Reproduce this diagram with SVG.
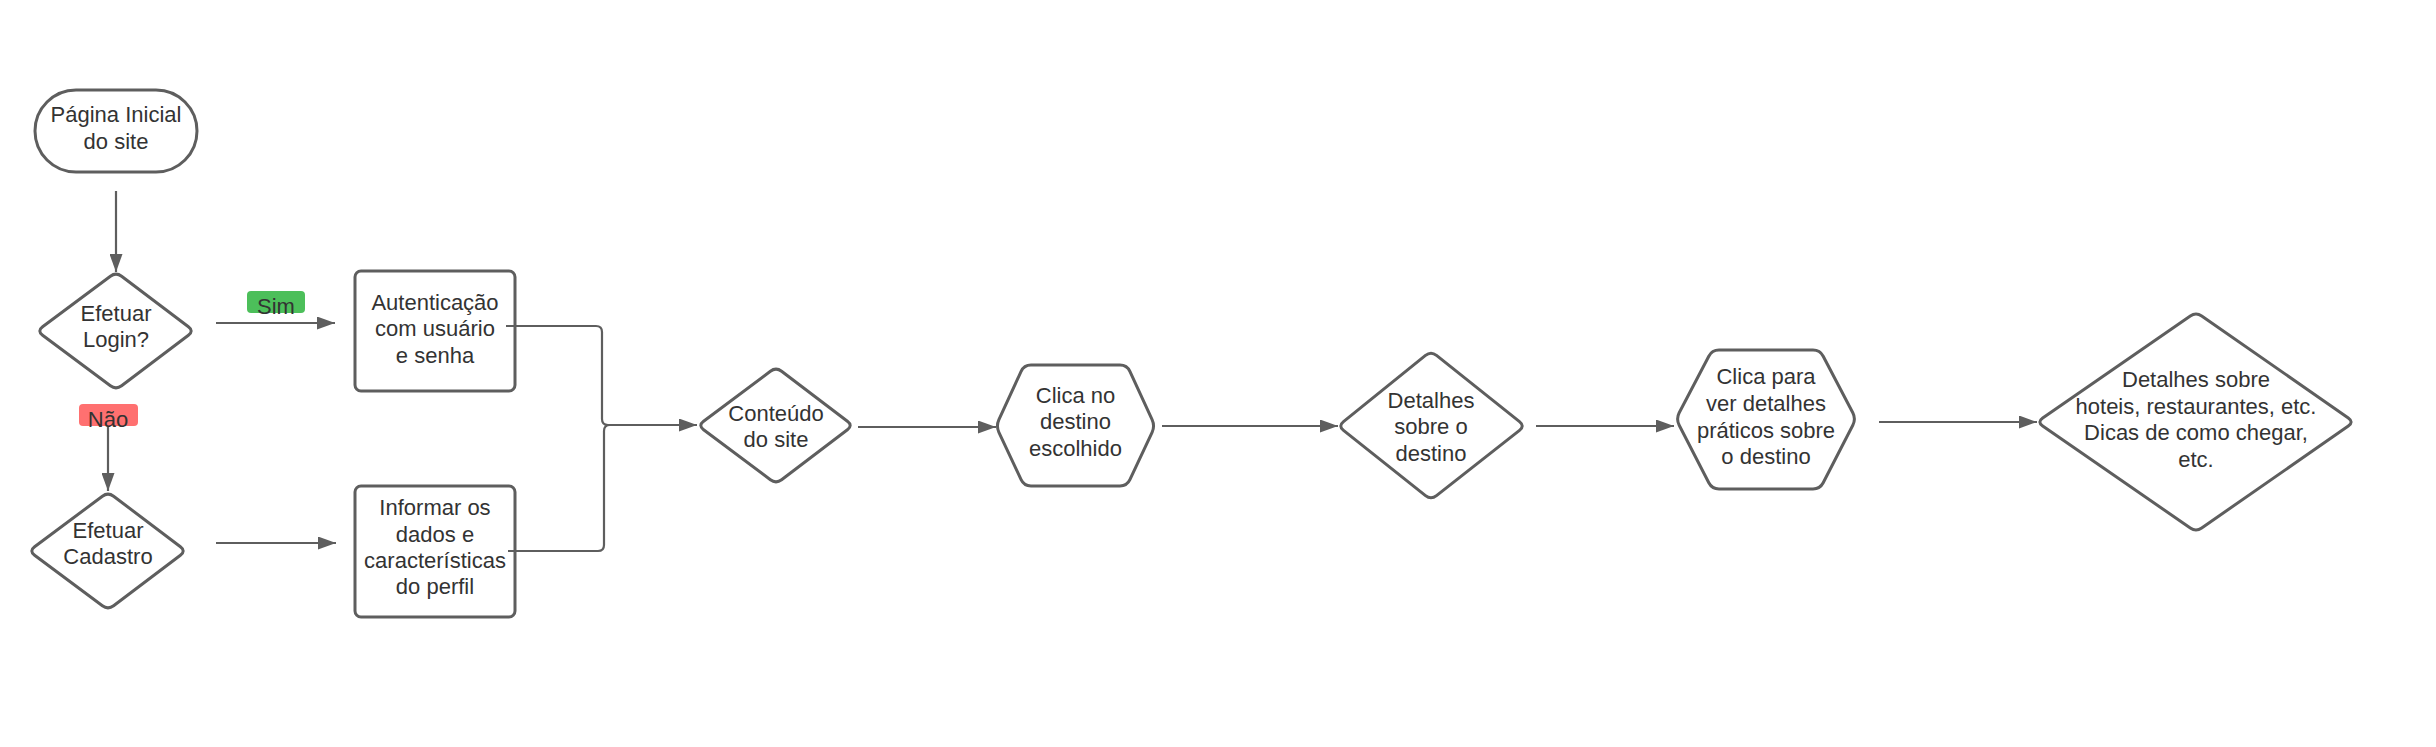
<svg xmlns="http://www.w3.org/2000/svg" width="2436" height="747" viewBox="0 0 2436 747">
<style>
.shape{fill:#ffffff;stroke:#5e5e5e;stroke-width:3;stroke-linejoin:round}
.conn{fill:none;stroke:#5e5e5e;stroke-width:2.2}
.t{font-family:"Liberation Sans",Arial,sans-serif;font-size:22px;fill:#333333;text-anchor:middle}
</style>
<defs>
<marker id="arr" viewBox="0 0 18 13" refX="18" refY="6.5" markerWidth="18" markerHeight="13" markerUnits="userSpaceOnUse" orient="auto">
<path d="M0,0 L18,6.5 L0,13 z" fill="#5e5e5e"/>
</marker>
</defs>
<rect width="2436" height="747" fill="#ffffff"/>

<g id="n-inicio">
<rect class="shape" x="35" y="90" width="162" height="82" rx="41"/>
<text class="t" x="116" y="122">Página Inicial</text>
<text class="t" x="116" y="149">do site</text>
</g>

<g id="n-login">
<path class="shape" d="M121.6,276.2 L188.4,326.8 Q194,331 188.4,335.2 L121.6,385.8 Q116,390 110.4,385.8 L42.6,335.2 Q37,331 42.6,326.8 L110.4,276.2 Q116,272 121.6,276.2 Z"/>
<text class="t" x="116" y="321">Efetuar</text>
<text class="t" x="116" y="347">Login?</text>
</g>

<g id="n-cadastro">
<path class="shape" d="M113.6,496.2 L180.4,546.8 Q186,551 180.4,555.2 L113.6,605.8 Q108,610 102.4,605.8 L34.6,555.2 Q29,551 34.6,546.8 L102.4,496.2 Q108,492 113.6,496.2 Z"/>
<text class="t" x="108" y="538">Efetuar</text>
<text class="t" x="108" y="564">Cadastro</text>
</g>

<g id="n-autenticacao">
<rect class="shape" x="355" y="271" width="160" height="120" rx="6"/>
<text class="t" x="435" y="310">Autenticação</text>
<text class="t" x="435" y="336">com usuário</text>
<text class="t" x="435" y="363">e senha</text>
</g>

<g id="n-informar">
<rect class="shape" x="355" y="486" width="160" height="131" rx="6"/>
<text class="t" x="435" y="515">Informar os</text>
<text class="t" x="435" y="542">dados e</text>
<text class="t" x="435" y="568">características</text>
<text class="t" x="435" y="594">do perfil</text>
</g>

<g id="n-conteudo">
<path class="shape" d="M781.6,371.2 L847.4,421.3 Q853,425.5 847.4,429.7 L781.6,479.8 Q776,484 770.4,479.8 L703.6,429.7 Q698,425.5 703.6,421.3 L770.4,371.2 Q776,367 781.6,371.2 Z"/>
<text class="t" x="776" y="421">Conteúdo</text>
<text class="t" x="776" y="447">do site</text>
</g>

<g id="n-clica-destino">
<path class="shape" d="M1031,365 H1120 Q1127,365 1129.9,371.4 L1152.1,419.6 Q1155,426 1152.1,432.3 L1129.9,479.7 Q1127,486 1120,486 H1031 Q1024,486 1021.1,479.7 L998.9,432.3 Q996,426 998.9,419.6 L1021.1,371.4 Q1024,365 1031,365 Z"/>
<text class="t" x="1075.5" y="403">Clica no</text>
<text class="t" x="1075.5" y="429">destino</text>
<text class="t" x="1075.5" y="456">escolhido</text>
</g>

<g id="n-detalhes">
<path class="shape" d="M1436.5,355.4 L1519.5,421.6 Q1525,426 1519.5,430.4 L1436.5,495.6 Q1431,500 1425.5,495.6 L1343.5,430.4 Q1338,426 1343.5,421.6 L1425.5,355.4 Q1431,351 1436.5,355.4 Z"/>
<text class="t" x="1431" y="408">Detalhes</text>
<text class="t" x="1431" y="434">sobre o</text>
<text class="t" x="1431" y="461">destino</text>
</g>

<g id="n-clica-praticos">
<path class="shape" d="M1719,350 H1813 Q1820,350 1823.2,356.2 L1852.8,412.8 Q1856,419 1852.8,425.2 L1823.2,482.8 Q1820,489 1813,489 H1719 Q1712,489 1708.8,482.8 L1679.2,425.2 Q1676,419 1679.2,412.8 L1708.8,356.2 Q1712,350 1719,350 Z"/>
<text class="t" x="1766" y="384">Clica para</text>
<text class="t" x="1766" y="411">ver detalhes</text>
<text class="t" x="1766" y="438">práticos sobre</text>
<text class="t" x="1766" y="464">o destino</text>
</g>

<g id="n-detalhes-hoteis">
<path class="shape" d="M2201.7,316 L2348.3,418 Q2354,422 2348.3,426 L2201.7,528 Q2196,532 2190.3,528 L2042.7,426 Q2037,422 2042.7,418 L2190.3,316 Q2196,312 2201.7,316 Z"/>
<text class="t" x="2196" y="387">Detalhes sobre</text>
<text class="t" x="2196" y="413.5">hoteis, restaurantes, etc.</text>
<text class="t" x="2196" y="440">Dicas de como chegar,</text>
<text class="t" x="2196" y="466.5">etc.</text>
</g>

<g id="connectors">
<line class="conn" x1="116" y1="191" x2="116" y2="272" marker-end="url(#arr)"/>
<line class="conn" x1="216" y1="323" x2="335" y2="323" marker-end="url(#arr)"/>
<line class="conn" x1="108" y1="427" x2="108" y2="491" marker-end="url(#arr)"/>
<line class="conn" x1="216" y1="543" x2="336" y2="543" marker-end="url(#arr)"/>
<path class="conn" d="M506,326 H596 Q602,326 602,332 V419 Q602,425 608,425 H697" marker-end="url(#arr)"/>
<path class="conn" d="M508,551 H598 Q604,551 604,545 V431 Q604,425 610,425"/>
<line class="conn" x1="858" y1="427" x2="996" y2="427" marker-end="url(#arr)"/>
<line class="conn" x1="1162" y1="426" x2="1338" y2="426" marker-end="url(#arr)"/>
<line class="conn" x1="1536" y1="426" x2="1674" y2="426" marker-end="url(#arr)"/>
<line class="conn" x1="1879" y1="422" x2="2037" y2="422" marker-end="url(#arr)"/>
<g id="label-sim">
<rect x="247" y="291" width="58" height="22" rx="4" fill="#4cbf5a"/>
<text class="t" x="276" y="314">Sim</text>
</g>
<g id="label-nao">
<rect x="79" y="404" width="59" height="22" rx="4" fill="#ff7070"/>
<text class="t" x="108" y="427">Não</text>
</g>
</g>
</svg>
